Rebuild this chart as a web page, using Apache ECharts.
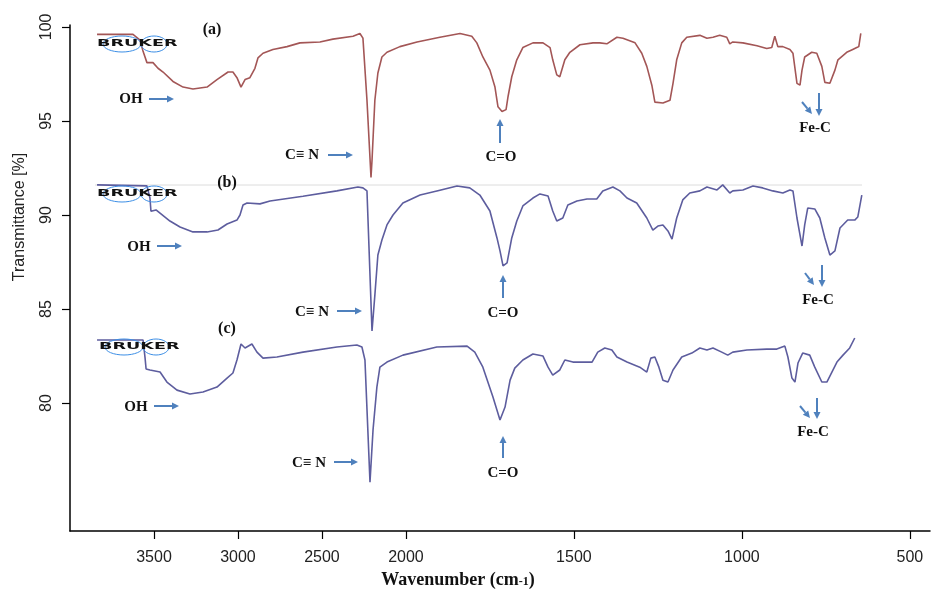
<!DOCTYPE html>
<html>
<head>
<meta charset="utf-8">
<script src="https://cdn.jsdelivr.net/npm/echarts@6/dist/echarts.min.js"></script>
<style>
  html, body { margin: 0; background: #fff; }
  #chart { width: 933px; height: 595px; }
</style>
</head>
<body>
<div id="chart"></div>
<script>
// spectrum (a)
const wnA = [3839, 3625, 3583, 3565, 3542, 3506, 3476, 3446, 3387, 3327, 3268, 3184, 3125, 3059, 3030, 3006, 2982, 2958, 2929, 2899,
  2881, 2851, 2792, 2708, 2631, 2512, 2435, 2315, 2274, 2256, 2232, 2208, 2202, 2185, 2167, 2143, 2113, 2036, 1967, 1899,
  1839, 1804, 1789, 1771, 1750, 1735, 1726, 1714, 1702, 1696, 1685, 1670, 1652, 1622, 1592, 1571, 1563, 1551, 1542, 1527,
  1512, 1482, 1443, 1423, 1402, 1372, 1354, 1318, 1298, 1283, 1268, 1259, 1235, 1214, 1205, 1194, 1179, 1164, 1125, 1104,
  1086, 1066, 1045, 1036, 1027, 997, 955, 926, 911, 902, 893, 878, 857, 848, 836, 827, 821, 813, 792, 777,
  762, 753, 738, 723, 714, 688, 670, 658, 652, 646];
const trA = [99.6, 99.6, 99.3, 98.7, 98.1, 98.1, 97.8, 97.6, 97.1, 96.8, 96.7, 96.8, 97.2, 97.6, 97.6, 97.3, 96.8, 97.2, 97.3, 97.8,
  98.35, 98.6, 98.8, 98.95, 99.15, 99.2, 99.35, 99.5, 99.65, 99.4, 96.1, 92.0, 92.9, 96.1, 97.55, 98.4, 98.65, 98.95, 99.2, 99.45,
  99.65, 99.5, 99.15, 98.4, 97.7, 96.8, 95.75, 95.5, 95.6, 96.3, 97.35, 98.25, 98.9, 99.15, 99.15, 98.9, 98.25, 97.45, 97.35, 98.25,
  98.65, 99.05, 99.15, 99.15, 99.1, 99.45, 99.4, 99.15, 98.6, 97.9, 96.9, 96.0, 95.95, 96.1, 97.0, 98.25, 99.15, 99.45, 99.55, 99.4,
  99.45, 99.55, 99.45, 99.1, 99.2, 99.15, 99.0, 98.85, 98.9, 99.5, 98.95, 98.95, 98.8, 98.6, 97.0, 96.9, 97.7, 98.4, 98.65, 98.6,
  97.9, 97.05, 97.0, 97.7, 98.25, 98.65, 98.8, 98.9, 98.95, 99.65];

// spectrum (b)
const wnB = [3839, 3542, 3524, 3518, 3488, 3464, 3405, 3345, 3268, 3184, 3119, 3065, 3006, 2988, 2970, 2946, 2869, 2809, 2613, 2411,
  2286, 2256, 2232, 2202, 2185, 2167, 2143, 2113, 2077, 2018, 1958, 1908, 1848, 1810, 1780, 1750, 1729, 1720, 1711, 1699,
  1685, 1670, 1652, 1622, 1601, 1577, 1563, 1551, 1533, 1518, 1491, 1461, 1432, 1414, 1384, 1363, 1342, 1313, 1283, 1265,
  1250, 1235, 1220, 1208, 1194, 1176, 1155, 1125, 1104, 1074, 1057, 1036, 1027, 997, 967, 938, 908, 878, 857, 848,
  836, 821, 813, 804, 783, 768, 753, 738, 723, 708, 685, 664, 655, 643];
const trB = [91.6, 91.55, 90.9, 90.2, 90.27, 90.1, 89.68, 89.36, 89.1, 89.1, 89.2, 89.52, 89.73, 90.0, 90.53, 90.64, 90.59, 90.74, 91.0, 91.28,
  91.49, 91.44, 91.28, 83.83, 85.74, 87.87, 88.67, 89.47, 90.0, 90.64, 91.06, 91.28, 91.54, 91.44, 91.06, 90.21, 88.78, 88.09, 87.29, 87.45,
  88.78, 89.68, 90.48, 90.9, 91.12, 91.01, 90.21, 89.68, 89.84, 90.53, 90.74, 90.85, 90.85, 91.28, 91.49, 91.28, 90.9, 90.64, 89.84, 89.2,
  89.41, 89.47, 89.15, 88.72, 89.84, 90.8, 91.17, 91.28, 91.49, 91.33, 91.6, 91.17, 91.28, 91.33, 91.54, 91.44, 91.28, 91.17, 91.33, 91.28,
  89.84, 88.35, 89.47, 90.37, 90.32, 89.84, 88.78, 87.87, 88.09, 89.31, 89.73, 89.73, 89.89, 91.06];

// spectrum (c)
const wnC = [3839, 3565, 3553, 3547, 3524, 3464, 3423, 3363, 3286, 3208, 3125, 3065, 3030, 3006, 2982, 2958, 2917, 2887, 2851, 2768,
  2613, 2411, 2292, 2262, 2244, 2214, 2196, 2173, 2155, 2113, 2018, 1908, 1818, 1795, 1771, 1741, 1720, 1705, 1690, 1676,
  1652, 1622, 1592, 1577, 1563, 1542, 1527, 1503, 1473, 1446, 1429, 1408, 1387, 1372, 1342, 1304, 1283, 1271, 1259, 1247,
  1235, 1220, 1205, 1179, 1149, 1125, 1104, 1086, 1060, 1042, 1027, 985, 926, 896, 872, 863, 851, 842, 833, 819,
  798, 783, 762, 747, 732, 717, 699, 679, 664];
const trC = [83.35, 83.35, 82.39, 81.81, 81.76, 81.65, 81.12, 80.69, 80.48, 80.59, 80.85, 81.33, 81.6, 82.29, 83.14, 82.93, 83.14, 82.71, 82.39, 82.45,
  82.71, 82.98, 83.09, 82.98, 82.29, 75.8, 78.56, 80.85, 81.91, 82.18, 82.55, 82.98, 83.03, 82.71, 81.91, 80.32, 79.1, 79.79, 81.22, 81.86,
  82.29, 82.61, 82.5, 81.91, 81.49, 81.76, 82.29, 82.18, 82.18, 82.18, 82.71, 82.93, 82.82, 82.45, 82.18, 81.91, 81.65, 82.39, 82.45, 81.91,
  81.22, 81.12, 81.76, 82.45, 82.66, 82.93, 82.82, 82.93, 82.71, 82.55, 82.71, 82.82, 82.87, 82.87, 83.03, 82.45, 81.33, 81.12, 82.13, 82.66,
  82.55, 81.91, 81.12, 81.12, 81.65, 82.18, 82.55, 82.93, 83.46];

const tickWn = [500, 1000, 1500, 2000, 2500, 3000, 3500];
const tickT = [80, 85, 90, 95, 100];

// above 2000 cm-1 the axis is squeezed by half (OPUS style)
function toAxis(w) { return w <= 2000 ? w : 2000 + (w - 2000) / 2; }
function fromAxis(v) { return v <= 2000 ? v : 2000 + (v - 2000) * 2; }
function pairs(wn, tr) { return wn.map((w, i) => [toAxis(w), tr[i]]); }

const blue = '#4f81bd';
const serifBold = 'bold 15px "Liberation Serif", "Times New Roman", serif';

function label(text, x, y, size) {
  return {
    type: 'text', x, y, z: 10,
    style: { text, font: serifBold.replace('15px', (size || 15) + 'px'), fill: '#111', align: 'center', verticalAlign: 'middle' }
  };
}

function arrow(x1, y1, x2, y2) {
  const a = Math.atan2(y2 - y1, x2 - x1);
  const L = 7, W = 3.5;
  const bx = x2 - L * Math.cos(a), by = y2 - L * Math.sin(a);
  return [
    { type: 'line', z: 10, shape: { x1, y1, x2: bx, y2: by }, style: { stroke: blue, lineWidth: 2 } },
    {
      type: 'polygon', z: 10,
      shape: { points: [[x2, y2], [bx - W * Math.sin(a), by + W * Math.cos(a)], [bx + W * Math.sin(a), by - W * Math.cos(a)]] },
      style: { fill: blue }
    }
  ];
}

function logo(x, y) {
  return [
    { type: 'ellipse', z: 10, shape: { cx: x + 25, cy: y, rx: 19, ry: 8 }, style: { fill: 'none', stroke: '#3d8fe6', lineWidth: 1 } },
    { type: 'ellipse', z: 10, shape: { cx: x + 57, cy: y, rx: 13, ry: 8 }, style: { fill: 'none', stroke: '#3d8fe6', lineWidth: 1 } },
    {
      type: 'text', z: 11, x, y, scaleX: 2.2,
      style: { text: 'BRUKER', font: 'bold 8px "DejaVu Sans", sans-serif', fill: '#111', verticalAlign: 'middle' }
    }
  ];
}

const graphics = [
  { type: 'line', z: 0, shape: { x1: 95, y1: 185, x2: 862, y2: 185 }, style: { stroke: '#dcdcdc', lineWidth: 1 } },
  ...logo(97, 44), ...logo(97, 194), ...logo(99, 347),
  label('(a)', 212, 30, 16), label('(b)', 227, 183, 16), label('(c)', 227, 329, 16),
  label('OH', 131, 99), ...arrow(149, 99, 174, 99),
  label('OH', 139, 247), ...arrow(157, 246, 182, 246),
  label('OH', 136, 407), ...arrow(154, 406, 179, 406),
  label('C\u2261 N', 302, 155), ...arrow(328, 155, 353, 155),
  label('C\u2261 N', 312, 312), ...arrow(337, 311, 362, 311),
  label('C\u2261 N', 309, 463), ...arrow(334, 462, 358, 462),
  label('C=O', 501, 157), ...arrow(500, 143, 500, 119),
  label('C=O', 503, 313), ...arrow(503, 298, 503, 275),
  label('C=O', 503, 473), ...arrow(503, 458, 503, 436),
  label('Fe-C', 815, 128), ...arrow(802, 102, 812, 114), ...arrow(819, 93, 819, 116),
  label('Fe-C', 818, 300), ...arrow(805, 273, 814, 285), ...arrow(822, 265, 822, 287),
  label('Fe-C', 813, 432), ...arrow(800, 406, 810, 418), ...arrow(817, 398, 817, 419)
];

const chart = echarts.init(document.getElementById('chart'));
chart.setOption({
  animation: false,
  backgroundColor: '#fff',
  grid: { left: 70, right: 3, top: 25, bottom: 64 },
  xAxis: {
    type: 'value',
    min: 440,
    max: 3000,
    inverse: true,
    name: 'Wavenumber (cm{s|-1})',
    nameLocation: 'middle',
    nameGap: 39,
    nameTextStyle: {
      fontFamily: '"Liberation Serif", serif', fontWeight: 'bold', fontSize: 18, color: '#111',
      padding: [0, 84, 0, 0],
      rich: { s: { fontFamily: '"Liberation Serif", serif', fontWeight: 'bold', fontSize: 12, color: '#111', padding: [4, 0, 0, 0] } }
    },
    splitLine: { show: false },
    axisLine: { lineStyle: { color: '#000', width: 1.5 } },
    axisTick: { customValues: tickWn.map(toAxis), length: 8, lineStyle: { color: '#000', width: 1.2 } },
    axisLabel: {
      customValues: tickWn.map(toAxis),
      formatter: v => String(Math.round(fromAxis(v))),
      margin: 19, fontFamily: '"Liberation Sans", Arial, sans-serif', fontSize: 16, color: '#222'
    }
  },
  yAxis: {
    type: 'value',
    min: 73.2,
    max: 100.1,
    name: 'Transmittance [%]',
    nameLocation: 'middle',
    nameRotate: 90,
    nameGap: 42,
    nameTextStyle: {
      fontFamily: '"Liberation Sans", Arial, sans-serif', fontSize: 16, color: '#222',
      padding: [0, 0, 0, 122]
    },
    splitLine: { show: false },
    axisLine: { show: true, lineStyle: { color: '#000', width: 1.5 } },
    axisTick: { show: true, customValues: tickT, length: 8, lineStyle: { color: '#000', width: 1.2 } },
    axisLabel: {
      customValues: tickT, rotate: 90, margin: 15,
      fontFamily: '"Liberation Sans", Arial, sans-serif', fontSize: 16, color: '#222'
    }
  },
  series: [
    { name: '(a)', type: 'line', data: pairs(wnA, trA), showSymbol: false, lineStyle: { color: '#a35656', width: 1.6 } },
    { name: '(b)', type: 'line', data: pairs(wnB, trB), showSymbol: false, lineStyle: { color: '#5d5d9e', width: 1.6 } },
    { name: '(c)', type: 'line', data: pairs(wnC, trC), showSymbol: false, lineStyle: { color: '#5d5d9e', width: 1.6 } }
  ],
  graphic: graphics
});
</script>
</body>
</html>
